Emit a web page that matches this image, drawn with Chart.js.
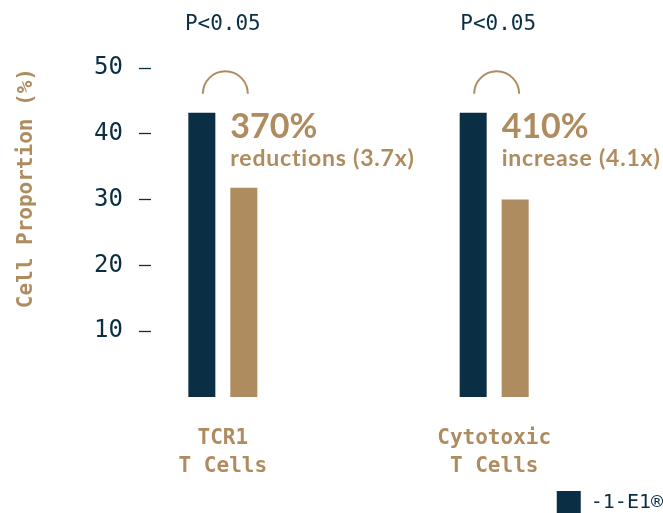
<!DOCTYPE html>
<html>
<head>
<meta charset="utf-8">
<script src="https://cdn.jsdelivr.net/npm/chart.js@4.4.1/dist/chart.umd.min.js"></script>
<style>
  html, body { margin: 0; padding: 0; background: #ffffff; overflow: hidden; }
  #wrap { width: 663px; height: 513px; overflow: hidden; }
  canvas { display: block; }
</style>
</head>
<body>
<div id="wrap"><canvas id="c" width="663" height="525"></canvas></div>
<script>
// ---- data ----
const categories = [['TCR1', 'T Cells'], ['Cytotoxic', 'T Cells']];
const seriesDark = [43.2, 43.2];
const seriesTan = [31.8, 30.0];
const seriesNames = ['-1-E1\u00AE', 'Control'];
const yTicks = [10, 20, 30, 40, 50];
const pLabels = ['P<0.05', 'P<0.05'];
const bigLabels = ['370%', '410%'];
const subLabels = ['reductions (3.7x)', 'increase (4.1x)'];

// ---- style ----
const DARK = '#0a2e43';
const TAN = '#af8c5f';
const MONO = '"DejaVu Sans Mono", "Liberation Mono", monospace';
const SANS = 'Lato, "Noto Sans", sans-serif';

// build table with a spacer slot between the two groups
const labels = [categories[0], '', categories[1]];
const darkData = [seriesDark[0], null, seriesDark[1]];
const tanData = [seriesTan[0], null, seriesTan[1]];
const groupIdx = [0, 2];

const annotations = {
  id: 'annotations',
  afterDatasetsDraw(chart) {
    const ctx = chart.ctx;
    const x = chart.scales.x;
    const m0 = chart.getDatasetMeta(0);
    const m1 = chart.getDatasetMeta(1);
    groupIdx.forEach((idx, g) => {
      const cx = x.getPixelForValue(idx);
      const dBar = m0.data[idx];
      const tBar = m1.data[idx];
      ctx.save();
      // p-value
      ctx.font = '21px ' + MONO;
      ctx.fillStyle = DARK;
      ctx.textAlign = 'center';
      ctx.textBaseline = 'middle';
      ctx.fillText(pLabels[g], cx + (g === 0 ? 0 : 4), 25);
      // arc
      ctx.strokeStyle = TAN;
      ctx.lineWidth = 2;
      ctx.beginPath();
      ctx.arc(cx + 2.5, dBar.y - 19, 22.5, Math.PI, 2 * Math.PI);
      ctx.stroke();
      // big number
      const lx = tBar.x - tBar.width / 2;
      ctx.fillStyle = TAN;
      ctx.textAlign = 'left';
      ctx.textBaseline = 'alphabetic';
      ctx.font = 'bold 34px ' + SANS;
      ctx.fillText(bigLabels[g], lx, dBar.y + 25);
      ctx.font = 'bold 23px ' + SANS;
      ctx.letterSpacing = '0.8px';
      ctx.fillText(subLabels[g], lx, dBar.y + 53);
      ctx.restore();
    });
  }
};

new Chart(document.getElementById('c'), {
  type: 'bar',
  data: {
    labels: labels,
    datasets: [
      { label: seriesNames[0], data: darkData, backgroundColor: DARK, borderWidth: 0,
        categoryPercentage: 0.619, barPercentage: 0.643 },
      { label: seriesNames[1], data: tanData, backgroundColor: TAN, borderWidth: 0,
        categoryPercentage: 0.619, barPercentage: 0.643 }
    ]
  },
  options: {
    responsive: false,
    animation: false,
    layout: { padding: { top: 68, left: 0, right: 0, bottom: 0 } },
    plugins: {
      tooltip: { enabled: false },
      legend: {
        position: 'bottom',
        align: 'end',
        labels: {
          filter: (item) => item.datasetIndex === 0,
          boxWidth: 24,
          boxHeight: 24,
          padding: 0,
          color: DARK,
          font: { family: MONO, size: 20 }
        }
      }
    },
    scales: {
      x: {
        grid: { display: false, drawTicks: false },
        border: { display: false },
        ticks: {
          color: TAN,
          padding: 28,
          maxRotation: 0,
          autoSkip: false,
          font: { family: MONO, size: 21, weight: 'bold', lineHeight: '28px' }
        },
        afterFit(s) { s.height = 94; }
      },
      y: {
        min: 0,
        max: 50,
        afterBuildTicks(s) { s.ticks = yTicks.map(v => ({ value: v })); },
        grid: { drawOnChartArea: false, drawTicks: true, tickLength: 16, tickColor: DARK,
                tickWidth: 1.3, tickBorderDash: [12, 4] },
        border: { display: false },
        ticks: {
          color: DARK,
          padding: 16,
          font: { family: MONO, size: 24 }
        },
        title: {
          display: true,
          text: 'Cell Proportion (%)',
          align: 'end',
          color: TAN,
          padding: { top: 14, bottom: 0 },
          font: { family: MONO, size: 21, weight: 'bold' }
        },
        afterFit(s) { s.width = 155; }
      },
      yR: {
        position: 'right',
        display: true,
        grid: { display: false, drawTicks: false },
        border: { display: false },
        ticks: { display: false },
        afterFit(s) { s.width = 101; }
      }
    }
  },
  plugins: [annotations]
});
</script>
</body>
</html>
